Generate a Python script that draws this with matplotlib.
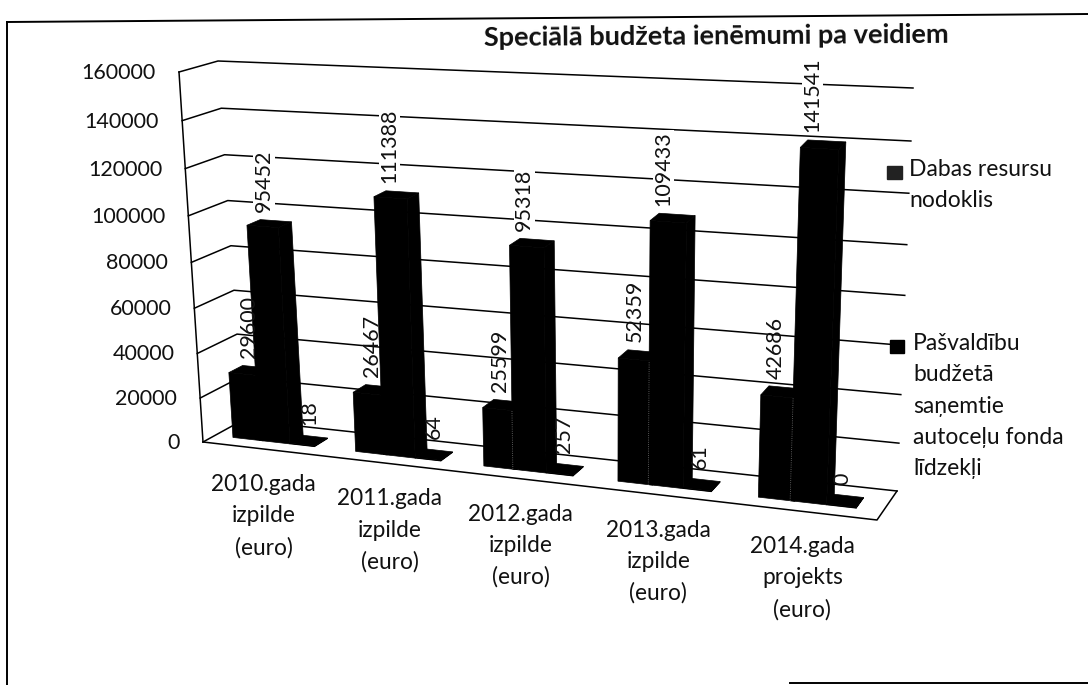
import numpy as np
from matplotlib import pyplot as plt

plt.rcParams['font.family'] = ['Lato', 'DejaVu Sans']

title = "Speciālā budžeta ienēmumi pa veidiem"
categories = ["2010.gada\nizpilde\n(euro)", "2011.gada\nizpilde\n(euro)", "2012.gada\nizpilde\n(euro)",
              "2013.gada\nizpilde\n(euro)", "2014.gada\nprojekts\n(euro)"]
series_a = [29600, 26467, 25599, 52359, 42686]
series_b = [95452, 111388, 95318, 109433, 141541]
series_c = [18, 64, 257, 61, 0]
ticks = [0, 20000, 40000, 60000, 80000, 100000, 120000, 140000, 160000]
legend_a = "Dabas resursu\nnodoklis"
legend_b = "Pašvaldību\nbudžetā\nsaņemtie\nautoceļu fonda\nlīdzekļi"

VMAX = 160000
# chart box corners in pixels, (u, depth, top)
corners = np.array([
    [[[203, 442], [179, 72]], [[243, 420], [218, 61]]],
    [[[877, 520], [895, 110]], [[897, 491], [913, 88]]],
], dtype=float)


def warp(t, w):
    return t / (t + w * (1 - t))


def project(u, d, value):
    # trilinear map of the box, with a bit of perspective on u and value
    a = warp(u, 1.12)
    b = d
    c = warp(value / VMAX, 1.06)
    p = np.zeros(2)
    for i, wi in enumerate([1 - a, a]):
        for j, wj in enumerate([1 - b, b]):
            for k, wk in enumerate([1 - c, c]):
                p += wi * wj * wk * corners[i, j, k]
    return p


def draw_bar(ax, u0, u1, d0, d1, value, min_v=0):
    v = max(value, min_v)
    faces = [
        [(u0, d0, 0), (u1, d0, 0), (u1, d0, v), (u0, d0, v)],
        [(u1, d0, 0), (u1, d1, 0), (u1, d1, v), (u1, d0, v)],
        [(u0, d0, v), (u1, d0, v), (u1, d1, v), (u0, d1, v)],
    ]
    for face in faces:
        pts = np.array([project(*p) for p in face])
        ax.fill(pts[:, 0], pts[:, 1], color="black", lw=0.5, zorder=3)


def bar_label(ax, u, d, value, dx=0, dy=-8, clear=False):
    x, y = project(u, d, value)
    box = dict(facecolor="white", edgecolor="none", pad=0.5) if clear else None
    ax.text(x + dx, y + dy, str(value), rotation=90, ha="center", va="bottom",
            fontsize=15.5, color="#111111", zorder=5, bbox=box)


fig = plt.figure(figsize=(10.88, 6.85), dpi=100)
ax = fig.add_axes([0, 0, 1, 1])
ax.set_xlim(0, 1088)
ax.set_ylim(685, 0)
ax.axis("off")

# outer frame of the scanned page
ax.plot([7, 7], [22, 685], color="black", lw=1.4)
ax.plot([7, 1088], [22, 14], color="black", lw=1.4)
ax.plot([790, 1088], [683, 683], color="black", lw=1.4)

# gridlines, left wall and floor
for t in ticks:
    front = project(0, 0, t)
    elbow = project(0, 1, t)
    end = project(1, 1, t)
    ax.plot([front[0], elbow[0], end[0]], [front[1], elbow[1], end[1]], color="black", lw=1.1, zorder=2)
    ax.text(front[0] - 23, front[1] + 1, str(t), ha="right", va="center", fontsize=15.5, color="#111111")

edge = np.array([project(0, 0, 0), project(0, 0, VMAX)])
ax.plot(edge[:, 0], edge[:, 1], color="black", lw=1.1, zorder=2)
floor = np.array([project(0, 0, 0), project(1, 0, 0), project(1, 1, 0)])
ax.plot(floor[:, 0], floor[:, 1], color="black", lw=1.1, zorder=2)

# bars
D0, D1 = 0.3, 0.65
WIDTH = 0.05
for i in range(len(categories)):
    u = 0.03 + 0.2 * i
    draw_bar(ax, u, u + WIDTH, D0, D1, series_a[i])
    draw_bar(ax, u + 0.044, u + 0.044 + WIDTH, D0, D1, series_b[i])
    draw_bar(ax, u + 0.094, u + 0.134, D0, D1, series_c[i], min_v=300)

    # faint seam where the second bar sits in front of the first
    seam = np.array([project(u + 0.044, D0, 0), project(u + 0.044, D0, series_a[i])])
    if i >= 2:
        ax.plot(seam[:, 0], seam[:, 1], color="#777777", lw=0.6, ls=":", zorder=4)

    bar_label(ax, u + 0.01, D1, series_a[i])
    bar_label(ax, u + 0.05, D1, series_b[i], clear=True)
    bar_label(ax, u + 0.115, D1, series_c[i], dx=-7, dy=-12)

    x, y = project((i + 0.5) / len(categories), 0, 0)
    ax.text(x, y + 67, categories[i], ha="center", va="center", fontsize=16.3,
            color="#111111", linespacing=1.6)

ax.text(484, 38, title, ha="left", va="center", fontsize=19.5, fontweight="bold",
        color="#111111", rotation=0.4, rotation_mode="anchor")

# legend
ax.fill([887, 902, 902, 887], [166, 166, 179, 179], color="#222222")
ax.fill([890, 904, 904, 890], [340, 340, 353, 353], color="black")
ax.text(909, 185, legend_a, ha="left", va="center", fontsize=16.5, color="#111111", linespacing=1.55)
ax.text(913, 406, legend_b, ha="left", va="center", fontsize=16.5, color="#111111", linespacing=1.6)

plt.savefig("out.png", dpi=100)
